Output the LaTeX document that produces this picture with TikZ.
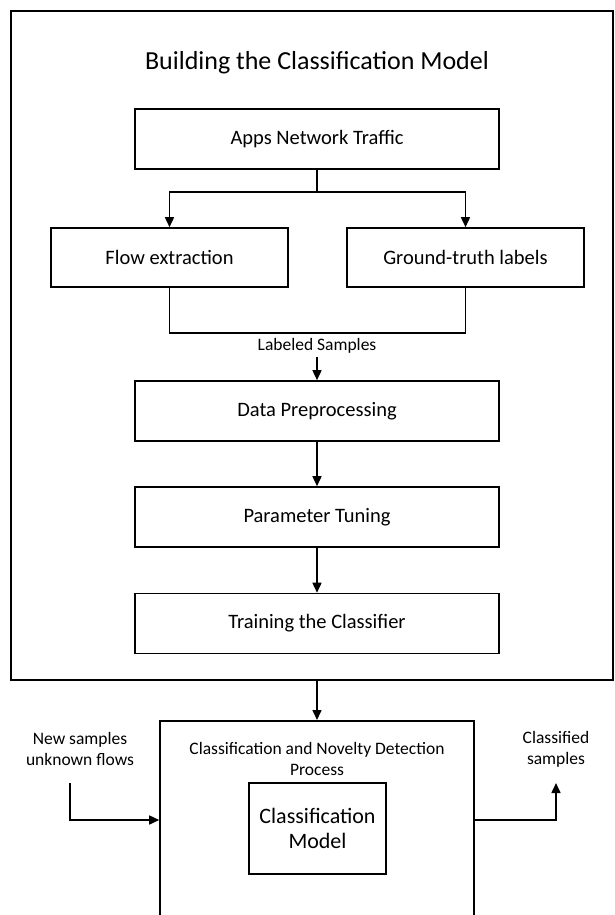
\documentclass[tikz,border=0pt]{standalone}
\usepackage{fontspec}
\setmainfont{Carlito}
\usetikzlibrary{arrows.meta}
\tikzset{
  box/.style={draw, line width=1.6pt, inner sep=0pt, align=center, font=\fontsize{20.5}{24}\selectfont},
  arr/.style={line width=1.6pt, -{Triangle[length=10pt,width=9pt]}},
  ln/.style={line width=1.6pt},
  smalltxt/.style={inner sep=0pt, align=center, font=\fontsize{17.5}{21}\selectfont}
}
\begin{document}
\begin{tikzpicture}[x=1pt,y=-1pt]
\useasboundingbox (0,0) rectangle (614,915);
\clip (0,0) rectangle (614,915);
% outer frame
\node[draw, line width=1.8pt, minimum width=602pt, minimum height=669pt, inner sep=0pt] (outer) at (312,345.5) {};
\node[inner sep=0pt, font=\fontsize{26}{30}\selectfont] (title) at (317,63) {Building the Classification Model};
% boxes
\node[box, minimum width=364pt, minimum height=60pt] (apps) at (317,139) {Apps Network Traffic};
\node[box, minimum width=237pt, minimum height=59pt] (flow) at (169.5,257.5) {Flow extraction};
\node[box, minimum width=237pt, minimum height=59pt] (gt) at (465.5,257.5) {Ground-truth labels};
\node[box, minimum width=364pt, minimum height=60pt] (data) at (317,411) {Data Preprocessing};
\node[box, minimum width=364pt, minimum height=60pt] (param) at (317,517) {Parameter Tuning};
\node[box, minimum width=364pt, minimum height=60pt] (train) at (317,623.5) {Training the Classifier};
% split / merge
\coordinate (split) at (317,192);
\coordinate (merge) at (317,333);
\draw[ln] (apps.south) -- (split);
\draw[arr] (split) -| (flow.north);
\draw[arr] (split) -| (gt.north);
\draw[ln] (flow.south) |- (merge) -| (gt.south);
\node[smalltxt] (lbl) at (317,346) {Labeled Samples};
\draw[arr] (lbl.south) ++(0,3) -- (data.north);
\draw[arr] (data.south) -- (param.north);
\draw[arr] (param.south) -- (train.north);
% process box
\node[draw, line width=1.6pt, minimum width=314pt, minimum height=400pt, inner sep=0pt, anchor=north] (proc) at (317,720) {};
\draw[arr] (train.south |- outer.south) -- (proc.north);
\node[smalltxt] (proctitle) at (317,758.5) {Classification and Novelty Detection\\Process};
\node[box, minimum width=137pt, minimum height=91pt, font=\fontsize{22}{25}\selectfont] (model) at (317.5,828.5) {Classification\\Model};
% inputs / outputs
\node[smalltxt] (newtxt) at (80,749) {New samples\\unknown flows};
\node[smalltxt] (clstxt) at (556,749) {Classified\\samples};
\coordinate (newstart) at (70,783);
\coordinate (inpt) at (proc.west |- 0,820);
\draw[arr] (newstart) |- (inpt);
\coordinate (outpt) at (proc.east |- 0,820);
\coordinate (clsend) at (556,783);
\draw[arr] (outpt) -| (clsend);
\end{tikzpicture}
\end{document}
